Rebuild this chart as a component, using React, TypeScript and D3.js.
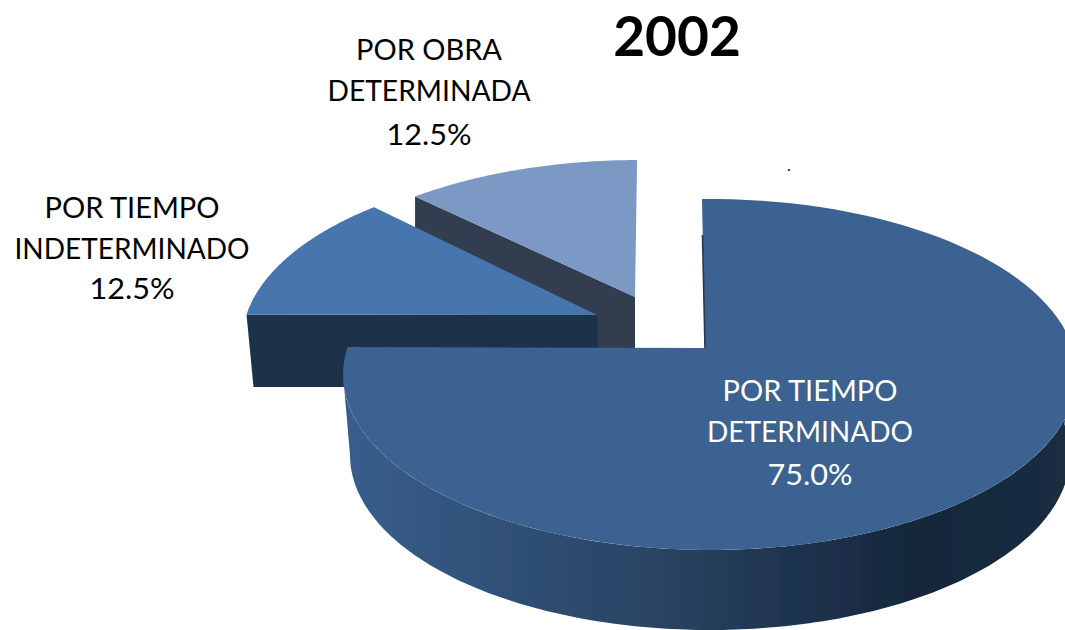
import React from "react";
import * as d3 from "d3";

const title = "2002";
const categories = ["POR TIEMPO DETERMINADO", "POR TIEMPO INDETERMINADO", "POR OBRA DETERMINADA"];
const values = [75.0, 12.5, 12.5];
const labelLines = [["POR TIEMPO", "DETERMINADO"], ["POR TIEMPO", "INDETERMINADO"], ["POR OBRA", "DETERMINADA"]];
const topColors = ["#3b6290", "#4674ad", "#7b98c5"];

const W = 1065, H = 630;
const deg = Math.PI / 180;
type P = [number, number];

// projected ellipse of each exploded slice
const geom = [
  { cx: 710, cy: 374.5, rx: 367, ry: 175.5, hub: [705, 348] as P, t: [-1.25, 279], label: [810, 401] as P },
  { cx: 609, cy: 342, rx: 367, ry: 175.5, hub: [597, 315] as P, t: [279, 320.2], label: [132, 218] as P },
  { cx: 639, cy: 335.5, rx: 367, ry: 175.5, hub: [635, 297] as P, t: [322.4, 359.7], label: [429, 60] as P },
];
const lineGap = [41, 41, 41];
const pctGap = [84, 81, 85];
// rendered widths of the three text lines of each label
const lineWidths = [[175, 206, 85], [175, 235, 85], [146, 203, 85]];

const line = d3.line<P>();
const ell = (g: { cx: number; cy: number; rx: number; ry: number }, t: number): P => [
  g.cx + g.rx * Math.sin(t * deg),
  g.cy - g.ry * Math.cos(t * deg),
];

const pieArcs = d3.pie<number>().sort(null).startAngle(0).endAngle(2 * Math.PI)(values);

function sliceOutline(i: number): P[] {
  const g = geom[i];
  const a = pieArcs[i];
  const s = d3.scaleLinear().domain([a.startAngle, a.endAngle]).range(g.t);
  const pts = d3.range(0, 121).map((k) => ell(g, s(a.startAngle + ((a.endAngle - a.startAngle) * k) / 120)));
  return [g.hub, ...pts];
}

const outlines = values.map((_, i) => sliceOutline(i));

const bottomEll = { cx: 710, cy: 455, rx: 360, ry: 175 };
const sideTs = d3.range(80, 271);
const mainSide: P[] = [
  ...sideTs.map((t) => ell(geom[0], t)),
  ...sideTs.slice().reverse().map((t) => ell(bottomEll, t)),
];

const gradStops: [number, string][] = [
  [0, "#395e8c"],
  [0.25, "#2f4e75"],
  [0.45, "#294361"],
  [0.65, "#1d314c"],
  [0.8, "#16273a"],
  [1, "#1a2d42"],
];

const dark2 = "#1f3048";
const dark3 = "#323d50";

export default function App() {
  const pts2 = outlines[1];
  const left2 = pts2[1];
  const hub2 = geom[1].hub;
  const front2: P[] = [left2, hub2, [hub2[0] + 2, 387], [left2[0] + 7, 387]];
  const pts3 = outlines[2];
  const left3 = pts3[1];
  const hub3 = geom[2].hub;
  const face3: P[] = [left3, hub3, [hub3[0], hub3[1] + 75], [left3[0], left3[1] + 75]];
  const font = "Lato, 'Open Sans', sans-serif";
  return (
    <svg width={W} height={H} style={{ position: "absolute", left: 0, top: 0, background: "#fff" }}>
      <defs>
        <linearGradient id="side" gradientUnits="userSpaceOnUse" x1={343} x2={1065} y1={0} y2={0}>
          {gradStops.map(([o, c]) => (
            <stop key={o} offset={o} stopColor={c} />
          ))}
        </linearGradient>
        <filter id="soft" x="-5%" y="-5%" width="110%" height="110%">
          <feGaussianBlur stdDeviation="0.5" />
        </filter>
      </defs>
      <g filter="url(#soft)">
        <path d={line(face3)! + "Z"} fill={dark3} />
        <path d={line(pts3)! + "Z"} fill={topColors[2]} />
        <path d={line(front2)! + "Z"} fill={dark2} />
        <path d={line(pts2)! + "Z"} fill={topColors[1]} />
        <path d={line(mainSide)! + "Z"} fill="url(#side)" />
        <path d={line(outlines[0])! + "Z"} fill={topColors[0]} />
        <path d={line([[702.5, 235], geom[0].hub])!} stroke="#26384f" strokeWidth={1.6} fill="none" />
      </g>
      <text x={677} y={56} textAnchor="middle" fontFamily={font} fontWeight={700} fontSize={55} fill="#000">
        {title}
      </text>
      <text x={789} y={171} textAnchor="middle" fontFamily={font} fontSize={16} fill="#000">.</text>
      {categories.map((c, i) => {
        const [x, y] = geom[i].label;
        const fill = i === 0 ? "#fff" : "#000";
        const [w0, w1, w2] = lineWidths[i];
        return (
          <g key={c} fontFamily={font} fontSize={29} fill={fill} textAnchor="middle">
            <text x={x} y={y} textLength={w0} lengthAdjust="spacingAndGlyphs">{labelLines[i][0]}</text>
            <text x={x} y={y + lineGap[i]} textLength={w1} lengthAdjust="spacingAndGlyphs">{labelLines[i][1]}</text>
            <text x={x} y={y + pctGap[i]} textLength={w2} lengthAdjust="spacingAndGlyphs">{d3.format(".1f")(values[i])}%</text>
          </g>
        );
      })}
    </svg>
  );
}
